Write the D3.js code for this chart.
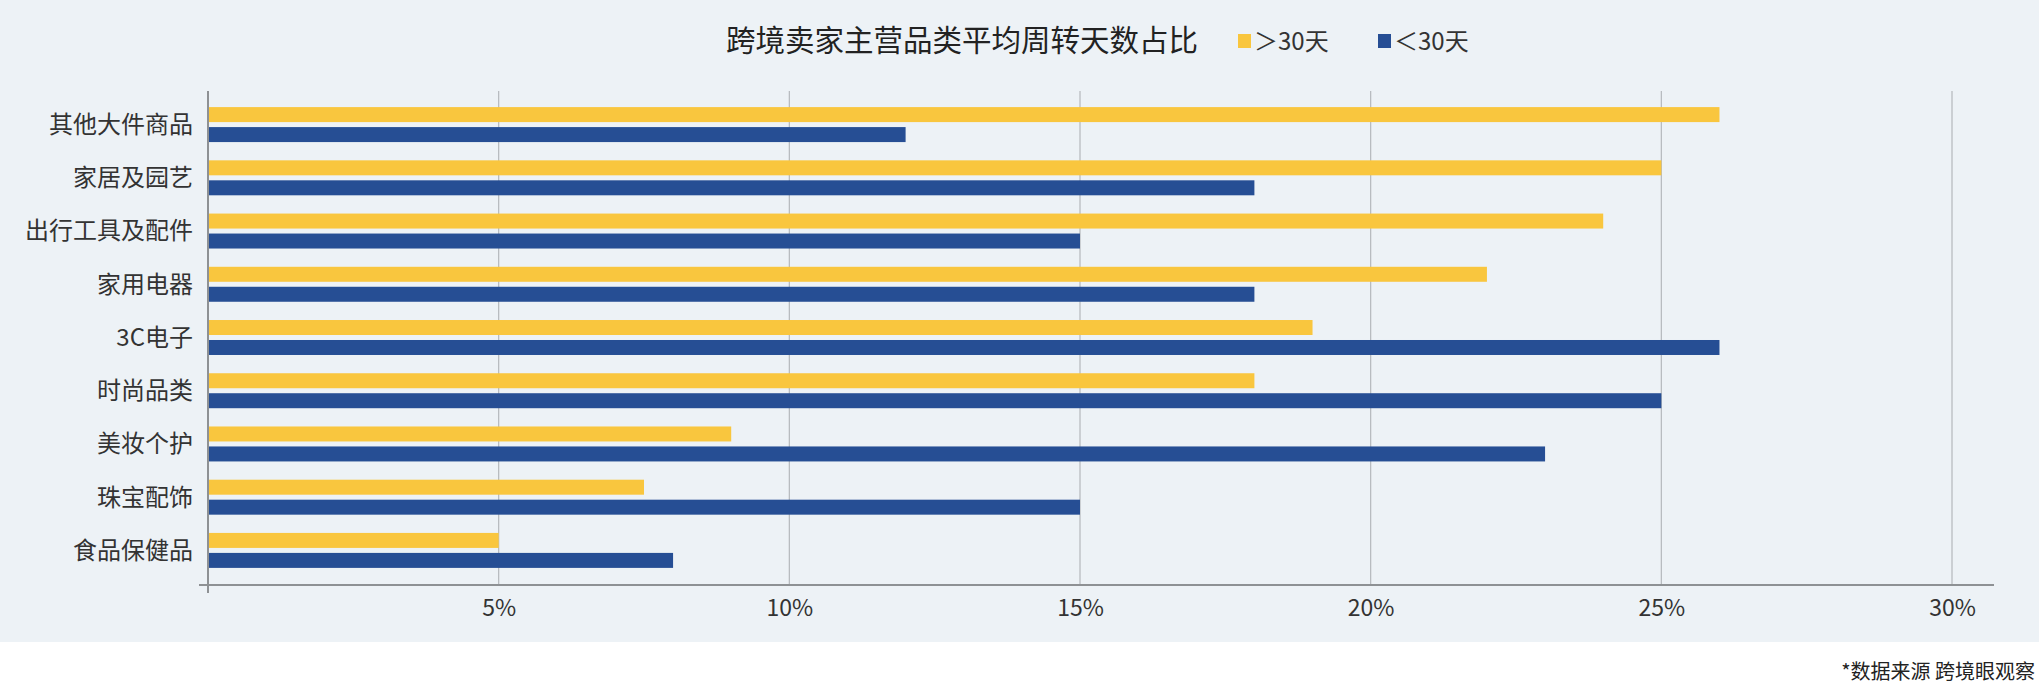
<!DOCTYPE html>
<html>
<head>
<meta charset="utf-8">
<script src="https://cdn.jsdelivr.net/npm/d3@7"></script>
<style>
  body { margin: 0; background: #fff; font-family: "Noto Sans CJK SC", "Noto Sans", sans-serif; }
</style>
</head>
<body>
<div id="chart"></div>
<script>
const layout = {
    width: 2039,
    height: 697,
    bgHeight: 642,
    marginLeft: 208,
    marginRight: 87,
    plotTop: 91,
    plotBottom: 585
};

// data
const categories = ["其他大件商品", "家居及园艺", "出行工具及配件", "家用电器", "3C电子", "时尚品类", "美妆个护", "珠宝配饰", "食品保健品"];
const seriesNames = ["＞30天", "＜30天"];
const over30 = [26, 25, 24, 22, 19, 18, 9, 7.5, 5];
const under30 = [12, 18, 15, 18, 26, 25, 23, 15, 8];
const xTicks = [5, 10, 15, 20, 25, 30];
const colors = ["#F9C63E", "#264E94"];

const rows = categories.map((c, i) => ({ name: c, values: [over30[i], under30[i]] }));

const svg = d3.select("#chart").append("svg")
    .attr("width", layout.width)
    .attr("height", layout.height);

svg.append("rect")
    .attr("width", layout.width)
    .attr("height", layout.bgHeight)
    .attr("fill", "#EDF2F6");

const x = d3.scaleLinear()
    .domain([0, 30])
    .range([layout.marginLeft, layout.marginLeft + 1744]);

const y = d3.scaleBand()
    .domain(categories)
    .range([98, 577])
    .paddingInner(0.343)
    .paddingOuter(0.171);

const ySub = d3.scaleBand()
    .domain([0, 1])
    .range([0, y.bandwidth()])
    .paddingInner(0.25);

// grid lines
svg.append("g")
    .selectAll("line")
    .data(xTicks)
    .join("line")
    .attr("x1", d => x(d)).attr("x2", d => x(d))
    .attr("y1", layout.plotTop).attr("y2", layout.plotBottom)
    .attr("stroke", "#B4B8BC")
    .attr("stroke-width", 1.2);

// bars
const groups = svg.append("g")
    .selectAll("g")
    .data(rows)
    .join("g")
    .attr("transform", d => `translate(0,${y(d.name)})`);

groups.selectAll("rect")
    .data(d => d.values)
    .join("rect")
    .attr("x", x(0))
    .attr("y", (d, i) => ySub(i))
    .attr("width", d => x(d) - x(0))
    .attr("height", ySub.bandwidth())
    .attr("fill", (d, i) => colors[i]);

// x axis
const xAxis = svg.append("g")
    .attr("transform", `translate(0,${layout.plotBottom})`)
    .call(d3.axisBottom(x).tickValues(xTicks).tickSize(0).tickPadding(15).tickFormat(d => d + "%"));
xAxis.select(".domain").remove();
xAxis.append("line")
    .attr("x1", 199).attr("x2", 1994)
    .attr("stroke", "#8E9194").attr("stroke-width", 2);
xAxis.selectAll("text")
    .attr("font-size", 23)
    .attr("fill", "#333")
    .attr("font-family", "'Noto Sans CJK SC', sans-serif");

// y axis
svg.append("line")
    .attr("x1", x(0)).attr("x2", x(0))
    .attr("y1", layout.plotTop).attr("y2", layout.plotBottom + 8)
    .attr("stroke", "#8E9194").attr("stroke-width", 2);

svg.append("g")
    .selectAll("text")
    .data(categories)
    .join("text")
    .attr("x", 193)
    .attr("y", d => y(d) + y.bandwidth() / 2)
    .attr("dy", "0.35em")
    .attr("text-anchor", "end")
    .attr("font-size", 24)
    .attr("fill", "#333")
    .text(d => d);

// title
svg.append("text")
    .attr("x", 726)
    .attr("y", 40)
    .attr("dy", "0.36em")
    .attr("font-size", 29.5)
    .attr("fill", "#222")
    .text("跨境卖家主营品类平均周转天数占比");

// legend
const legendX = [1238, 1378];
const legend = svg.append("g")
    .selectAll("g")
    .data(seriesNames)
    .join("g")
    .attr("transform", (d, i) => `translate(${legendX[i]},34)`);
legend.append("rect")
    .attr("width", 13).attr("height", 14)
    .attr("fill", (d, i) => colors[i]);
legend.append("text")
    .attr("x", 16)
    .attr("y", 7)
    .attr("dy", "0.36em")
    .attr("font-size", 24)
    .attr("fill", "#333")
    .text(d => d);

// source note
svg.append("text")
    .attr("x", 2035)
    .attr("y", 672)
    .attr("dy", "0.36em")
    .attr("text-anchor", "end")
    .attr("font-size", 20)
    .attr("fill", "#222")
    .text("*数据来源 跨境眼观察");
</script>
</body>
</html>
